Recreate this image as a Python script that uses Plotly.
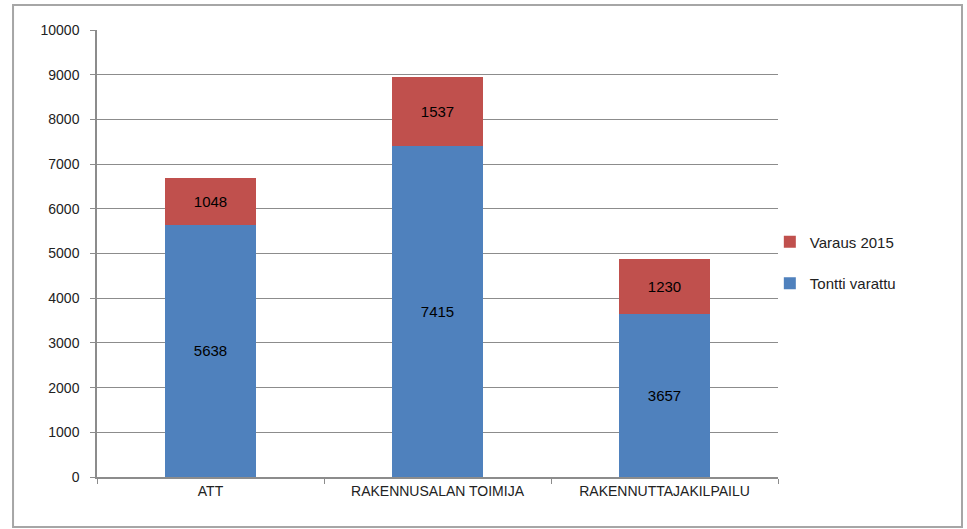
import plotly.graph_objects as go

# data
categories = ['ATT', 'RAKENNUSALAN TOIMIJA', 'RAKENNUTTAJAKILPAILU']
tontti_varattu = [5638, 7415, 3657]
varaus_2015 = [1048, 1537, 1230]

blue = '#4F81BD'
red = '#C0504D'
grid = '#8C8C8C'

fig = go.Figure()

fig.add_trace(go.Bar(
    x=categories, y=tontti_varattu, name='Tontti varattu',
    marker=dict(color=blue, line=dict(width=0)),
    text=tontti_varattu, textposition='inside', insidetextanchor='middle',
    textfont=dict(color='black', size=15), legendrank=2, legendgroup='tontti',
))
fig.add_trace(go.Bar(
    x=categories, y=varaus_2015, name='Varaus 2015',
    marker=dict(color=red, line=dict(width=0)),
    text=varaus_2015, textposition='inside', insidetextanchor='middle',
    textfont=dict(color='black', size=15), legendrank=1, legendgroup='varaus',
))

fig.update_layout(
    barmode='stack',
    bargap=0.6,
    width=967, height=529,
    margin=dict(l=97, r=189, t=30, b=52),
    paper_bgcolor='white',
    plot_bgcolor='white',
    font=dict(family='Liberation Sans, Arial, sans-serif', size=13, color='#222'),
    legend=dict(
        x=0.988, y=0.48, xanchor='left', yanchor='middle',
        traceorder='grouped', tracegroupgap=19,
        font=dict(size=15), bgcolor='rgba(0,0,0,0)',
        itemwidth=30,
    ),
    showlegend=True,
)

fig.update_xaxes(
    showline=True, linecolor=grid, linewidth=1.5,
    ticks='outside', tickson='boundaries', ticklen=5, tickcolor=grid,
    showgrid=False, tickfont=dict(size=14),
)
fig.update_yaxes(
    range=[0, 10000], dtick=1000, tickformat='d',
    showline=True, linecolor=grid, linewidth=1.5,
    ticks='outside', ticklen=5, tickcolor=grid,
    showgrid=True, gridcolor=grid, gridwidth=1.2,
    zeroline=False, tickfont=dict(size=14), ticklabelstandoff=8,
)

# outer chart border
fig.add_shape(
    type='rect', xref='paper', yref='paper',
    x0=-0.1233, x1=1.2702, y0=-0.1119, y1=1.0559,
    line=dict(color='#A6A6A6', width=2), fillcolor='rgba(0,0,0,0)', layer='below',
)

# the page body has a default margin; drop it so the figure fills the window
fig.write_html('out.html', config={'displayModeBar': False},
               post_script="document.body.style.margin='0';")
